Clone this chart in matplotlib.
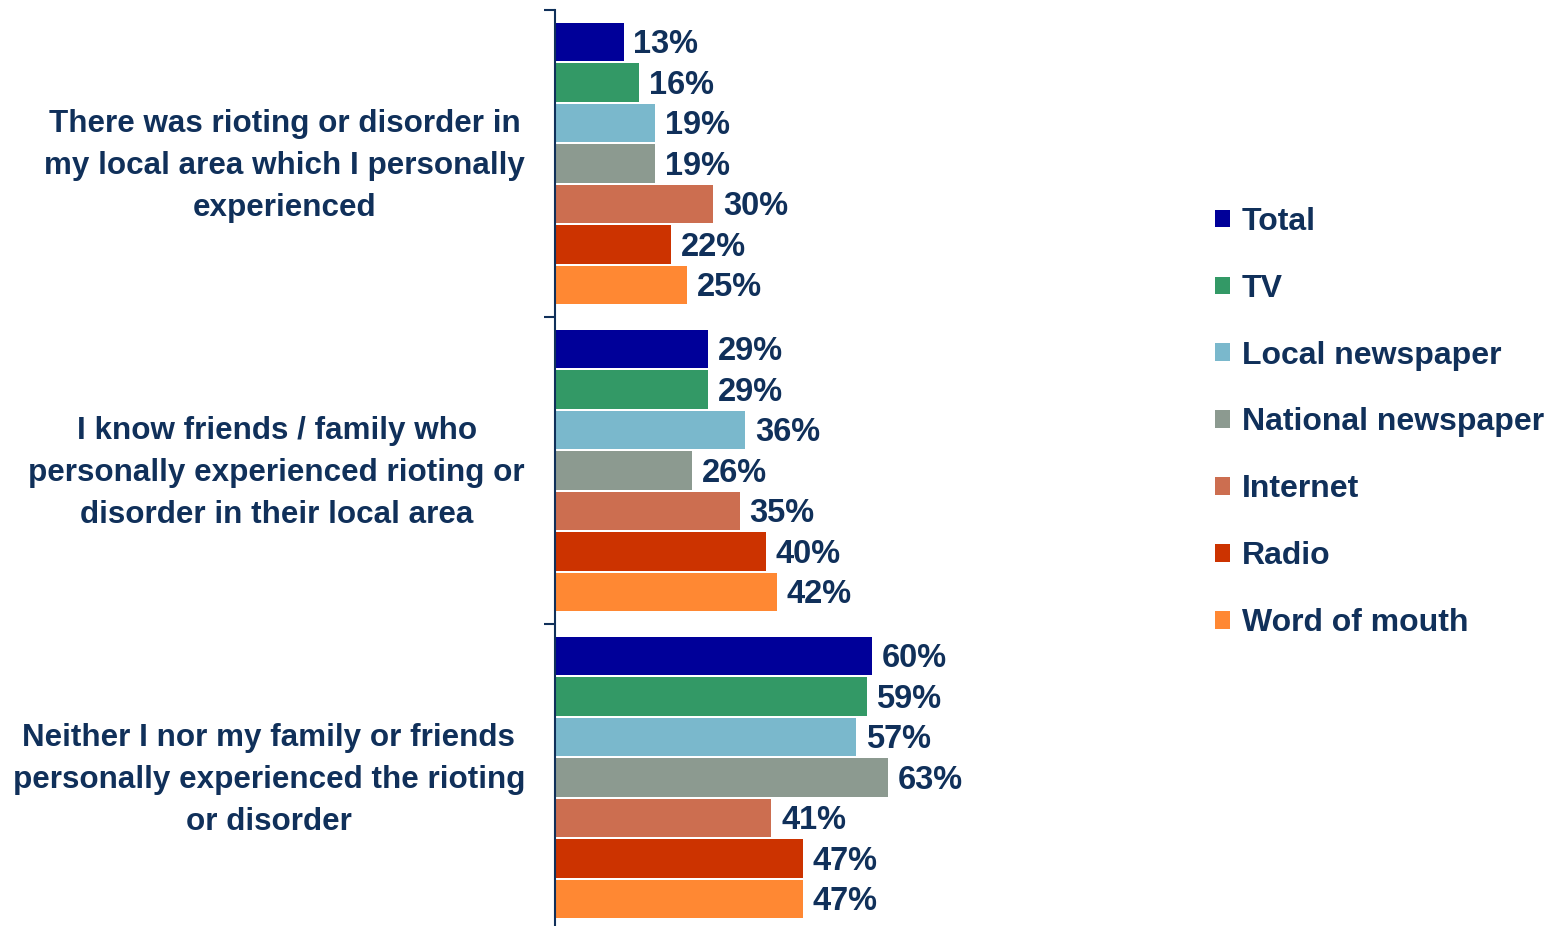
import numpy as np
import matplotlib.pyplot as plt
from matplotlib.patches import Patch

# Data
categories = [
    'There was rioting or disorder in\nmy local area which I personally\nexperienced',
    'I know friends / family who\npersonally experienced rioting or\ndisorder in their local area',
    'Neither I nor my family or friends\npersonally experienced the rioting\nor disorder',
]
series = ['Total', 'TV', 'Local newspaper', 'National newspaper', 'Internet', 'Radio', 'Word of mouth']
values = [
    [13, 29, 60],   # Total
    [16, 29, 59],   # TV
    [19, 36, 57],   # Local newspaper
    [19, 26, 63],   # National newspaper
    [30, 35, 41],   # Internet
    [22, 40, 47],   # Radio
    [25, 42, 47],   # Word of mouth
]
colors = ['#000099', '#339966', '#7AB8CC', '#8C9A90', '#CC6E50', '#CC3300', '#FF8833']
text_color = '#10305A'

plt.rcParams['font.family'] = ['Liberation Sans', 'DejaVu Sans']
plt.rcParams['font.weight'] = 'bold'

W, H = 1549, 926
fig = plt.figure(figsize=(W / 100, H / 100), dpi=100)
ax = fig.add_axes([555 / W, -5 / H, 528 / W, 921 / H])

pitch = 0.132
bar_h = 0.125
n = len(series)
group_pos = np.arange(len(categories))
for j, (name, vals, col) in enumerate(zip(series, values, colors)):
    y = group_pos + (j - (n - 1) / 2) * pitch
    bars = ax.barh(y, vals, height=bar_h, color=col, label=name)
    for b, v in zip(bars, vals):
        ax.annotate(f'{v}%', (v, b.get_y() + b.get_height() / 2),
                    xytext=(7, -2), textcoords='offset points',
                    ha='left', va='center', fontsize=23.5, fontweight='bold',
                    color=text_color)

ax.set_xlim(0, 100)
ax.set_ylim(2.5, -0.5)
ax.set_yticks([-0.5, 0.5, 1.5, 2.5])
ax.set_yticklabels([])
ax.tick_params(axis='y', length=8, width=1.5, color=text_color)
ax.set_xticks([])
for s in ['top', 'right', 'bottom']:
    ax.spines[s].set_visible(False)
ax.spines['left'].set_color(text_color)
ax.spines['left'].set_linewidth(1.5)

# Category labels
for i, cat in enumerate(categories):
    ax.annotate(cat, (0, i), xytext=(525 - 555, -2.5), textcoords='offset pixels',
                ha='right', va='center', multialignment='center',
                fontsize=22.6, fontweight='bold', color=text_color,
                linespacing=1.52, annotation_clip=False)

handles = [Patch(facecolor=c, label=s) for s, c in zip(series, colors)]
leg = fig.legend(handles=handles, loc='upper left', bbox_to_anchor=(1202 / W, 1 - 194 / H),
                 frameon=False, fontsize=23, handlelength=0.47, handleheight=0.47,
                 handletextpad=0.38, labelspacing=1.155, borderaxespad=0)
for t in leg.get_texts():
    t.set_color(text_color)
    t.set_fontweight('bold')

fig.savefig('out.png', dpi=100)
